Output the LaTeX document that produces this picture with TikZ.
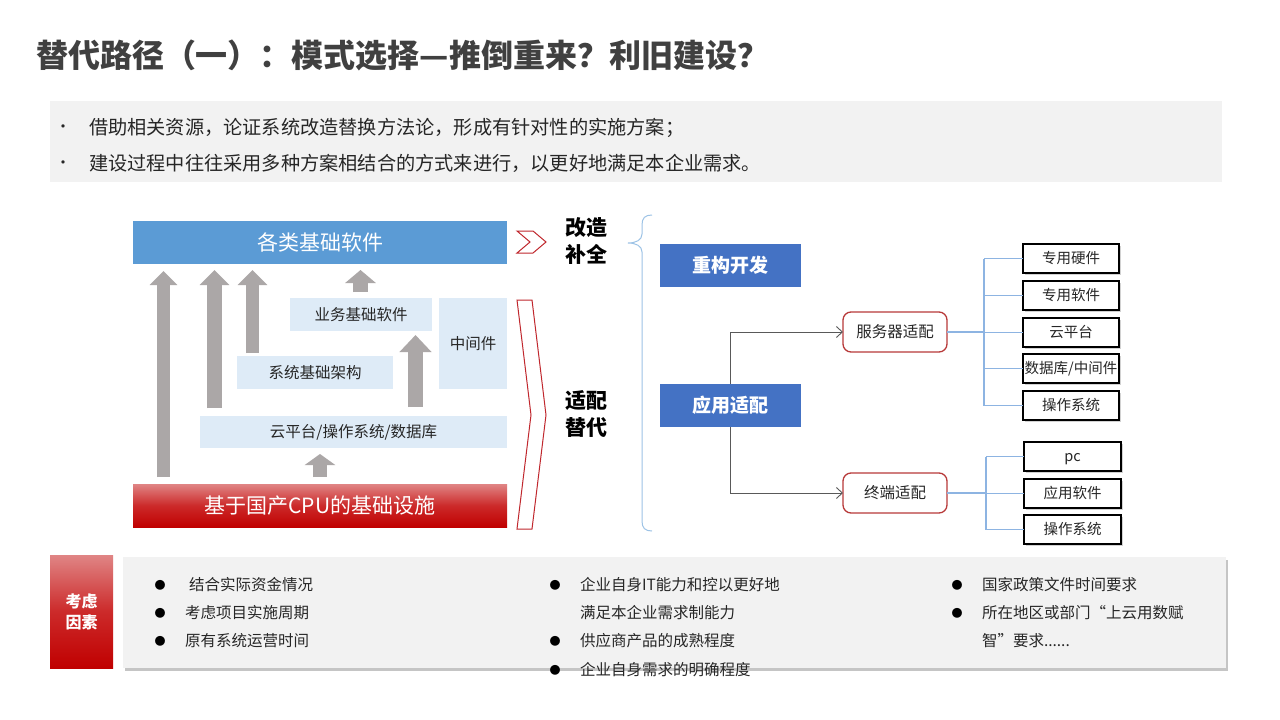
\documentclass[tikz,border=0pt]{standalone}
\usepackage{fontspec}
\setmainfont{Noto Sans CJK SC}
\usetikzlibrary{arrows.meta,shadows,calc}
\definecolor{titlec}{HTML}{404040}
\definecolor{txtc}{HTML}{262626}
\definecolor{panelc}{HTML}{F2F2F2}
\definecolor{bluebar}{HTML}{5B9BD5}
\definecolor{lightbox}{HTML}{DEEBF7}
\definecolor{arrowgray}{HTML}{ABA7A7}
\definecolor{redl}{HTML}{E08585}
\definecolor{redd}{HTML}{C00000}
\definecolor{redm}{HTML}{CC2A2A}
\definecolor{chev}{HTML}{C0272D}
\definecolor{darkblue}{HTML}{4472C4}
\definecolor{bracec}{HTML}{9DC3E6}
\definecolor{treec}{HTML}{8DB4E2}
\definecolor{rbord}{HTML}{B83A3A}
\definecolor{connc}{HTML}{595959}
\tikzset{
  every node/.style={inner sep=0pt, outer sep=0pt},
  lbox/.style={fill=lightbox, text=txtc, font=\fontsize{15.5}{18}\selectfont},
  bigbar/.style={minimum width=374pt, minimum height=43pt, text=white, font=\fontsize{21}{25}\selectfont},
  garrow/.style={arrowgray, line width=#1},
  dbox/.style={fill=darkblue, text=white, minimum width=141pt, minimum height=43pt, font=\bfseries\fontsize{19}{23}\selectfont},
  rbox/.style={draw=rbord, line width=1.3pt, fill=white, rounded corners=8pt, minimum width=104pt, minimum height=40pt, text=txtc, font=\fontsize{15.5}{18}\selectfont},
  leaf/.style={draw=black, line width=1.2pt, fill=white, minimum width=96pt, minimum height=29pt, text height=12.7pt, text depth=1.8pt, text=txtc, font=\fontsize{14.5}{17}\selectfont, drop shadow={shadow xshift=1.5pt, shadow yshift=-1.5pt, opacity=0.35, fill=gray}},
  conn/.style={draw=connc, line width=0.9pt, -{Straight Barb[length=6pt,width=11pt]}},
  tree/.style={draw=treec, line width=1.1pt},
  chevst/.style={draw=chev, line width=1pt, fill=white, line join=miter},
  bulbig/.style={text=txtc, font=\fontsize{19.2}{23}\selectfont, anchor=west},
  botx/.style={text=txtc, font=\fontsize{15.5}{18}\selectfont, anchor=west},
  dot/.style={text=black, font=\fontsize{11}{13}\selectfont},
}
\begin{document}
\begin{tikzpicture}[x=1pt,y=-1pt]
\useasboundingbox (0,0) rectangle (1280,720);
\fill[white] (0,0) rectangle (1280,720);

% title
\node[anchor=west, text=titlec, font=\bfseries\fontsize{32}{38}\selectfont] (title) at (36,55) {替代路径（一）：模式选择—推倒重来？利旧建设？};

% top panel
\fill[panelc] (50,101) rectangle (1222,182);
\node[text=txtc, font=\fontsize{16}{18}\selectfont] (b1dot) at (63,129) {•};
\node[bulbig] (b1txt) at (89,128) {借助相关资源，论证系统改造替换方法论，形成有针对性的实施方案；};
\node[text=txtc, font=\fontsize{16}{18}\selectfont] (b2dot) at (63,165) {•};
\node[bulbig] (b2txt) at (89,163) {建设过程中往往采用多种方案相结合的方式来进行，以更好地满足本企业需求。};

% left diagram
\node[bigbar, fill=bluebar] (sw) at (320,242.5) {各类基础软件};
\node[bigbar, top color=redl, bottom color=redd, middle color=redm] (cpu) at (320,505.5) {基于国产CPU的基础设施};
\node[lbox, minimum width=142pt, minimum height=33pt] (biz) at (361,314.5) {业务基础软件};
\node[lbox, minimum width=68pt, minimum height=91pt] (mid) at (473,343.5) {中间件};
\node[lbox, minimum width=156pt, minimum height=33pt] (sys) at (315,372.5) {系统基础架构};
\node[lbox, minimum width=307pt, minimum height=32pt] (os) at (353.5,432) {云平台/操作系统/数据库};

% gray block arrows
\draw[garrow=13pt, -{Triangle[length=14pt,width=27pt]}] (163.5,477) -- (163.5,271);
\draw[garrow=15pt, -{Triangle[length=15pt,width=29pt]}] (214.5,408) -- (214.5,270);
\draw[garrow=13pt, -{Triangle[length=15pt,width=29pt]}] (252.5,353) -- (252.5,270);
\draw[garrow=15pt, -{Triangle[length=13pt,width=30pt]}] (360.5,292) -- (360.5,270);
\draw[garrow=15pt, -{Triangle[length=17pt,width=31pt]}] (415.5,407) -- (415.5,335);
\draw[garrow=14pt, -{Triangle[length=11pt,width=30pt]}] (320,477) -- (320,454);

% chevrons
\draw[chevst] (517,231) -- (533,231) -- (546,242) -- (533,253) -- (517,253) -- (530,242) -- cycle;
\draw[chevst] (517,300) -- (532,300) -- (546,415) -- (532,529) -- (517,529) -- (531,415) -- cycle;

% side labels
\node[align=center, text=black, font=\bfseries\fontsize{21}{27}\selectfont] (gz) at (586,241.5) {改造\\补全};
\node[align=center, text=black, font=\bfseries\fontsize{21}{27}\selectfont] (sp) at (586,414.5) {适配\\替代};

% brace
\draw[draw=bracec, line width=1pt] (652,215) .. controls (645,215) and (642,218) .. (642,225) -- (642,234) .. controls (642,240) and (636,243) .. (628,243) .. controls (636,243) and (642,246) .. (642,252) -- (642,521) .. controls (642,528) and (645,531) .. (652,531);

% middle boxes
\node[dbox] (rg) at (730.5,265.5) {重构开发};
\node[dbox] (app) at (730.5,405.5) {应用适配};
\node[rbox] (srv) at (895,332) {服务器适配};
\node[rbox] (term) at (895,493) {终端适配};
\draw[conn] (app.north) |- (srv.west);
\draw[conn] (app.south) |- (term.west);

% leaves
\node[leaf] (l1) at (1071,258.5) {专用硬件};
\node[leaf] (l2) at (1071,295.5) {专用软件};
\node[leaf] (l3) at (1071,332.5) {云平台};
\node[leaf] (l4) at (1071,368.5) {数据库/中间件};
\node[leaf] (l5) at (1071,405.5) {操作系统};
\node[leaf, minimum width=97pt] (t1) at (1072.5,456.5) {pc};
\node[leaf, minimum width=97pt] (t2) at (1072.5,493.5) {应用软件};
\node[leaf, minimum width=97pt] (t3) at (1072.5,529.5) {操作系统};

\coordinate (sj) at (984,332);
\draw[tree] (srv.east) -- (sj);
\draw[tree] (sj |- l1.west) -- (sj |- l5.west);
\foreach \b in {l1,l2,l3,l4,l5} \draw[tree] (sj |- \b.west) -- (\b.west);
\coordinate (tj) at (986,493);
\draw[tree] (term.east) -- (tj);
\draw[tree] (tj |- t1.west) -- (tj |- t3.west);
\foreach \b in {t1,t2,t3} \draw[tree] (tj |- \b.west) -- (\b.west);

% bottom section
\node[top color=redl, bottom color=redd, middle color=redm, minimum width=63pt, minimum height=113pt] (kl) at (81.5,611.5) {};
\node[align=center, text=white, font=\bfseries\fontsize{16}{21}\selectfont] (kltxt) at (kl) {考虑\\因素};
\fill[panelc, drop shadow={shadow xshift=2pt, shadow yshift=-3pt, opacity=0.45, fill=gray}] (123,557) rectangle (1226,668);

\node[dot] (d11) at (160,585) {●};
\node[botx] (c11) at (189,585) {结合实际资金情况};
\node[dot] (d12) at (160,613) {●};
\node[botx] (c12) at (185,613) {考虑项目实施周期};
\node[dot] (d13) at (160,641) {●};
\node[botx] (c13) at (185,641) {原有系统运营时间};

\node[dot] (d21) at (555,585) {●};
\node[botx] (c21) at (580,585) {企业自身IT能力和控以更好地};
\node[botx] (c22) at (580,613) {满足本企业需求制能力};
\node[dot] (d23) at (555,641) {●};
\node[botx] (c23) at (580,641) {供应商产品的成熟程度};
\node[dot] (d24) at (555,670) {●};
\node[botx] (c24) at (580,670) {企业自身需求的明确程度};

\node[dot] (d31) at (957,585) {●};
\node[botx] (c31) at (982,585) {国家政策文件时间要求};
\node[dot] (d32) at (957,613) {●};
\node[botx] (c32) at (982,613) {所在地区或部门“上云用数赋};
\node[botx] (c33) at (982,641) {智”要求......};
\end{tikzpicture}
\end{document}
